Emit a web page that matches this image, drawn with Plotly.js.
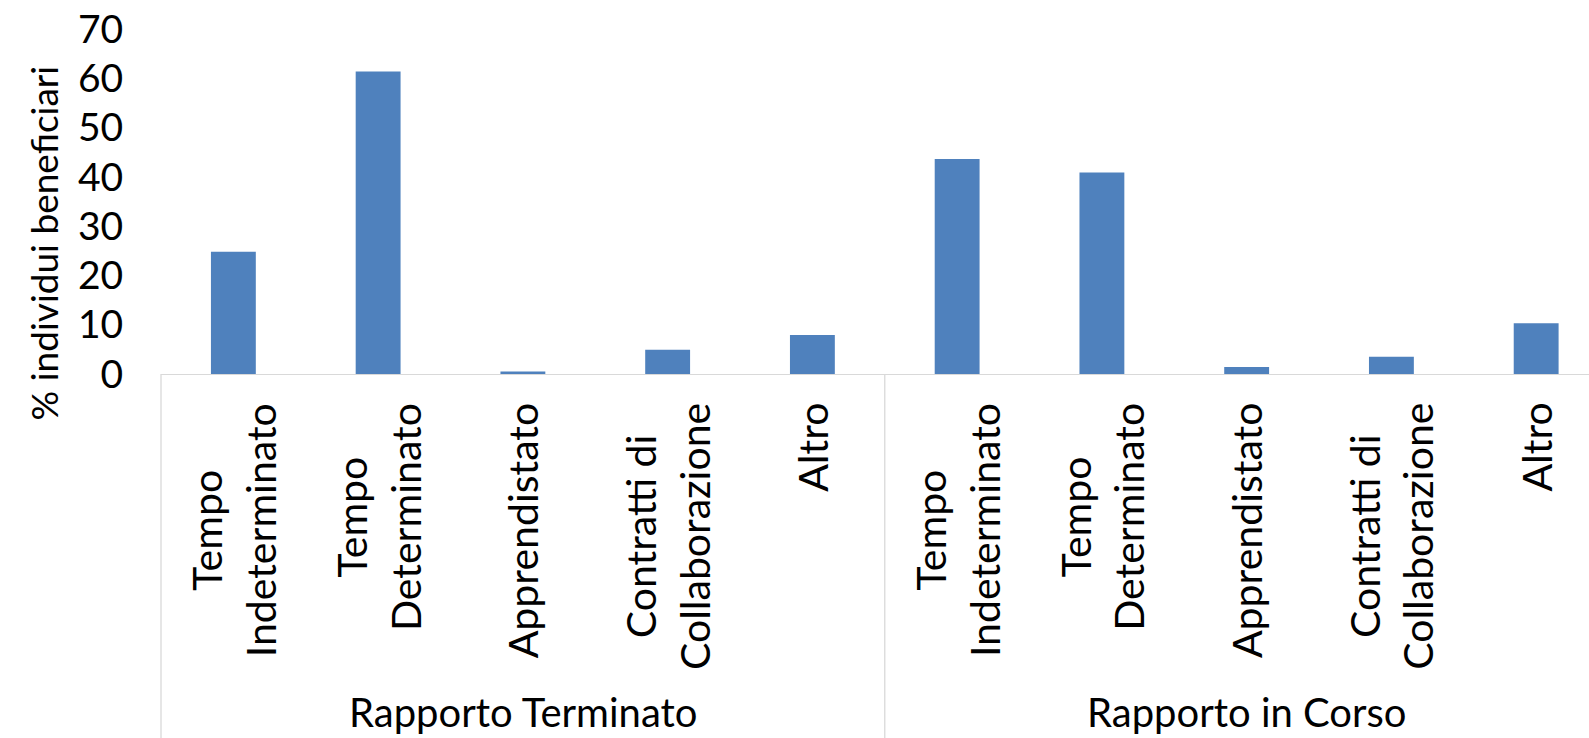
<!DOCTYPE html>
<html>
<head>
<meta charset="utf-8">
<script src="https://cdn.plot.ly/plotly-3.0.1.min.js"></script>
<style>
  html, body { margin: 0; padding: 0; background: #ffffff; }
  #chart { width: 1589px; height: 738px; }
</style>
</head>
<body>
<div id="chart"></div>
<script>
// ---- data ----
const groups = ["Rapporto Terminato", "Rapporto in Corso"];
const categories = ["Tempo Indeterminato", "Tempo Determinato", "Apprendistato", "Contratti di Collaborazione", "Altro"];
const tickLabels = ["Tempo<br>Indeterminato", "Tempo<br>Determinato", "Apprendistato", "Contratti di<br>Collaborazione", "Altro"];
const valuesTerminato = [24.8, 61.4, 0.5, 4.9, 7.9];
const valuesInCorso = [43.6, 40.9, 1.4, 3.5, 10.3];
const yTicks = [0, 10, 20, 30, 40, 50, 60, 70];
const yTitle = "% individui beneficiari";

// ---- build ----
const groupValues = [valuesTerminato, valuesInCorso];
const xKeys = [], yVals = [], labelList = [];
groups.forEach((g, gi) => {
  categories.forEach((c, ci) => {
    xKeys.push(g + " – " + c);
    yVals.push(groupValues[gi][ci]);
    labelList.push(tickLabels[ci]);
  });
});

const FONT = "Lato, 'Open Sans', sans-serif";
const xRange = [-0.5, 9.365];
const toPaperX = v => (v - xRange[0]) / (xRange[1] - xRange[0]);

const annotations = [];
labelList.forEach((t, i) => {
  annotations.push({
    xref: "x", yref: "paper", x: i, y: -0.078,
    xanchor: "center", yanchor: "top",
    text: t, textangle: -90, align: "center", showarrow: false,
    font: { family: FONT, size: 41, color: "#000000" }
  });
});
groups.forEach((g, gi) => {
  const n = categories.length;
  annotations.push({
    xref: "x", yref: "paper", x: gi * n + (n - 1) / 2, y: -0.98,
    xanchor: "center", yanchor: "middle",
    text: g, showarrow: false,
    font: { family: FONT, size: 40, color: "#000000" }
  });
});
annotations.push({
  xref: "paper", yref: "paper", x: -0.082, y: 0.381,
  xanchor: "center", yanchor: "middle",
  text: yTitle, textangle: -90, showarrow: false,
  font: { family: FONT, size: 37, color: "#000000" }
});

const shapes = [];
for (let gi = 0; gi < groups.length; gi++) {
  const boundary = gi * categories.length - 0.5;
  shapes.push({
    type: "line", xref: "paper", yref: "paper",
    x0: toPaperX(boundary), x1: toPaperX(boundary),
    y0: 0, y1: -1.06,
    line: { color: "#d9d9d9", width: 1.3 }
  });
}

const trace = {
  type: "bar",
  x: xKeys,
  y: yVals,
  width: 0.31,
  marker: { color: "#4F81BD", line: { width: 0 } },
  hoverinfo: "x+y"
};

const layout = {
  width: 1589, height: 738,
  margin: { l: 161, r: 0, t: 29, b: 364, pad: 0 },
  paper_bgcolor: "#ffffff", plot_bgcolor: "#ffffff",
  showlegend: false,
  font: { family: FONT, size: 39, color: "#000000" },
  xaxis: {
    type: "category",
    range: xRange,
    showticklabels: false,
    ticks: "",
    showgrid: false, zeroline: false,
    showline: true, linecolor: "#d9d9d9", linewidth: 1.3
  },
  yaxis: {
    range: [0, 70],
    tickvals: yTicks,
    ticktext: yTicks.map(String),
    ticks: "outside", ticklen: 29, tickcolor: "rgba(0,0,0,0)",
    showgrid: false, zeroline: false, showline: false,
    tickfont: { family: FONT, size: 39, color: "#000000" }
  },
  annotations: annotations,
  shapes: shapes
};

Plotly.newPlot("chart", [trace], layout, { displayModeBar: false, staticPlot: true });
</script>
</body>
</html>
